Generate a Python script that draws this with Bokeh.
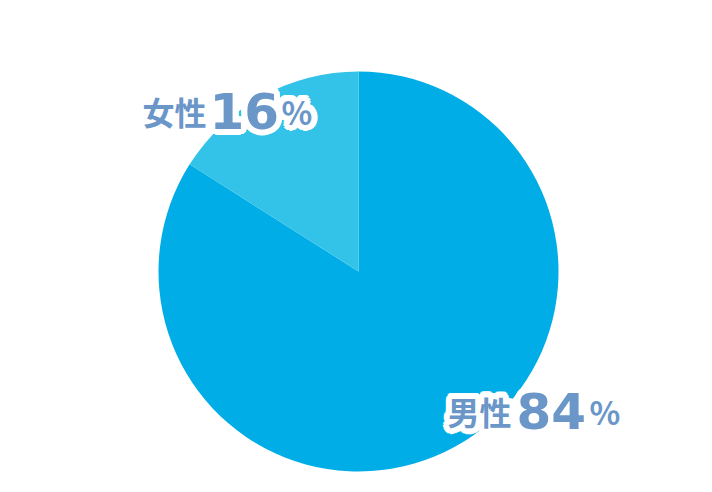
import math
from bokeh.plotting import figure
from bokeh.models import Range1d
from bokeh.core.properties import value
from bokeh.embed import file_html
from bokeh.resources import INLINE

categories = ["男性", "女性"]
values = [84, 16]
colors = ["#00ade6", "#33c3e8"]

W, H = 696, 476
p = figure(width=W, height=H, output_backend="svg", toolbar_location=None,
           x_range=Range1d(0, 696), y_range=Range1d(16, 492), min_border=0)
p.axis.visible = False
p.grid.visible = False
p.outline_line_color = None
p.background_fill_color = "white"
p.border_fill_color = "white"

def Y(py):
    return 492 - py

cx, cy, r = 358, Y(271), 200
total = sum(values)
top = math.pi / 2
p.wedge(x=cx, y=cy, radius=r, start_angle=top, end_angle=top - values[0] / total * 2 * math.pi,
        direction="clock", fill_color=colors[0], line_color=None)
p.wedge(x=cx, y=cy, radius=r, start_angle=top, end_angle=top + values[1] / total * 2 * math.pi,
        direction="anticlock", fill_color=colors[1], line_color=None)

cjk = value("Noto Sans CJK JP")
num = value("DejaVu Sans")
txt_color = "#6a96c8"

def label(parts):
    for x, y, t, size, f in parts:
        for k in range(24):
            a = 2 * math.pi * k / 24
            for rr in (3, 6):
                p.text(x=[x], y=[Y(y)], text=[t], text_font=f, text_font_size=f"{size}px",
                       text_font_style="bold", text_color="white", text_align="left",
                       text_baseline="alphabetic", x_offset=rr * math.cos(a), y_offset=rr * math.sin(a))
    for x, y, t, size, f in parts:
        p.text(x=[x], y=[Y(y)], text=[t], text_font=f, text_font_size=f"{size}px",
               text_font_style="bold", text_color=txt_color, text_align="left",
               text_baseline="alphabetic")

label([(142, 110, categories[1], 32, cjk), (209, 110, str(values[1]), 50, num), (281, 110, "%", 32, cjk)])
label([(447, 410, categories[0], 32, cjk), (516, 410, str(values[0]), 50, num), (589, 410, "%", 32, cjk)])

open("out.html", "w").write(file_html(p, INLINE))
